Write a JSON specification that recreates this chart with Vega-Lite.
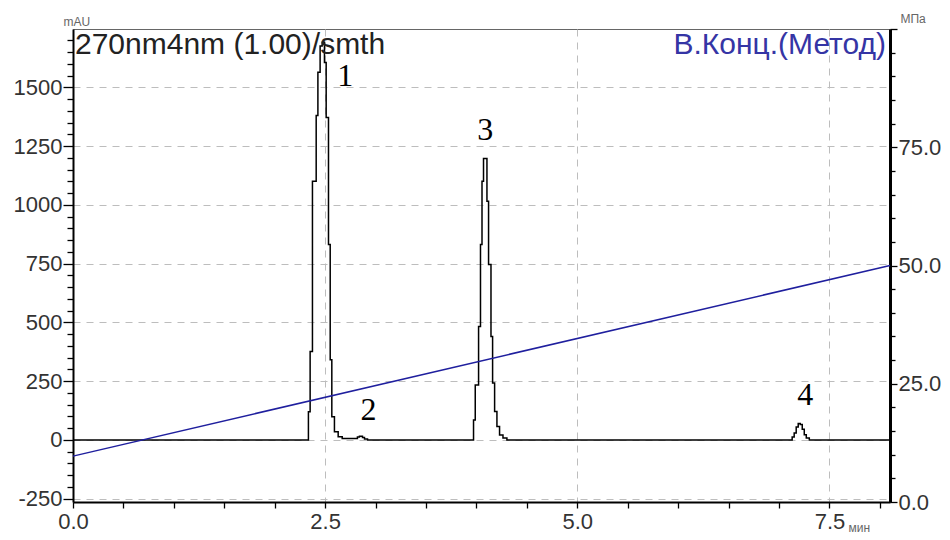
{
  "$schema": "https://vega.github.io/schema/vega-lite/v6.json",
  "width": 817,
  "height": 473,
  "autosize": {"type": "none"},
  "padding": {"left": 73, "top": 29, "right": 60, "bottom": 38},
  "background": "white",
  "config": {
    "view": {"stroke": "#666", "strokeWidth": 1},
    "font": "Liberation Sans",
    "axis": {
      "labelFont": "Liberation Sans",
      "titleFont": "Liberation Sans",
      "labelFontSize": 22,
      "labelColor": "#333",
      "titleFontSize": 12,
      "titleFontWeight": "normal",
      "titleColor": "#666",
      "domainColor": "#000",
      "tickColor": "#000",
      "tickWidth": 1.3,
      "gridColor": "#bdbdbd",
      "gridDash": [7, 6],
      "gridWidth": 1,
      "labelOverlap": false,
      "labelFlush": false
    }
  },
  "datasets": {
    "chrom": [
      {"t": 0.0, "v": 0},
      {"t": 2.334, "v": 120},
      {"t": 2.351, "v": 376},
      {"t": 2.374, "v": 1100},
      {"t": 2.411, "v": 1380},
      {"t": 2.428, "v": 1564},
      {"t": 2.45, "v": 1676},
      {"t": 2.47, "v": 1692},
      {"t": 2.493, "v": 1606},
      {"t": 2.51, "v": 1372},
      {"t": 2.533, "v": 831},
      {"t": 2.55, "v": 341},
      {"t": 2.566, "v": 99},
      {"t": 2.592, "v": 35},
      {"t": 2.629, "v": 14},
      {"t": 2.669, "v": 6},
      {"t": 2.82, "v": 12},
      {"t": 2.84, "v": 16},
      {"t": 2.87, "v": 10},
      {"t": 2.89, "v": 4},
      {"t": 2.92, "v": 0},
      {"t": 3.971, "v": 85},
      {"t": 3.988, "v": 234},
      {"t": 4.021, "v": 483},
      {"t": 4.04, "v": 831},
      {"t": 4.055, "v": 1100},
      {"t": 4.07, "v": 1197},
      {"t": 4.104, "v": 1015},
      {"t": 4.12, "v": 746},
      {"t": 4.144, "v": 440},
      {"t": 4.16, "v": 242},
      {"t": 4.18, "v": 121},
      {"t": 4.203, "v": 57},
      {"t": 4.229, "v": 21},
      {"t": 4.263, "v": 8},
      {"t": 4.302, "v": 0},
      {"t": 7.13, "v": 12},
      {"t": 7.15, "v": 30},
      {"t": 7.17, "v": 55},
      {"t": 7.19, "v": 70},
      {"t": 7.21, "v": 66},
      {"t": 7.23, "v": 45},
      {"t": 7.25, "v": 22},
      {"t": 7.27, "v": 8},
      {"t": 7.3, "v": 0},
      {"t": 8.1, "v": 0}
    ],
    "peaks": [
      {"t": 2.7, "v": 1547, "label": "1"},
      {"t": 2.93, "v": 128, "label": "2"},
      {"t": 4.087, "v": 1317, "label": "3"},
      {"t": 7.26, "v": 192, "label": "4"}
    ],
    "header": [
      {"t": 0, "v": 1748, "label": "270nm4nm (1.00)/smth"}
    ],
    "gradient": [
      {"t": 0, "p": 9.7},
      {"t": 8.1, "p": 50.0}
    ],
    "gradlabel": [
      {"t": 8.1, "p": 100, "label": "В.Конц.(Метод)"}
    ]
  },
  "layer": [
    {
      "encoding": {
        "x": {
          "field": "t", "type": "quantitative",
          "scale": {"domain": [0, 8.1], "nice": false, "zero": false},
          "axis": {
            "orient": "bottom",
            "title": "мин",
            "titleAngle": 0,
            "titleAlign": "left",
            "titleBaseline": "alphabetic",
            "titleX": 775,
            "titleY": 29,
            "values": [0, 0.5, 1, 1.5, 2, 2.5, 3, 3.5, 4, 4.5, 5, 5.5, 6, 6.5, 7, 7.5, 8],
            "labelExpr": "datum.value % 2.5 === 0 ? format(datum.value, '.1f') : ''",
            "domainWidth": 2,
            "tickSize": 6,
            "labelPadding": 3,
            "grid": true,
            "gridOpacity": {"condition": {"test": "datum.value % 2.5 === 0 && datum.value > 0", "value": 1}, "value": 0}
          }
        },
        "y": {
          "field": "v", "type": "quantitative",
          "scale": {"domain": [-264, 1748], "nice": false, "zero": false},
          "axis": {
            "orient": "left",
            "title": "mAU",
            "titleAngle": 0,
            "titleAlign": "left",
            "titleBaseline": "alphabetic",
            "titleX": -10,
            "titleY": -4,
            "values": [-250, -200, -150, -100, -50, 0, 50, 100, 150, 200, 250, 300, 350, 400, 450, 500, 550, 600, 650, 700, 750, 800, 850, 900, 950, 1000, 1050, 1100, 1150, 1200, 1250, 1300, 1350, 1400, 1450, 1500, 1550, 1600, 1650, 1700],
            "labelExpr": "datum.value % 250 === 0 ? '' + datum.value : ''",
            "domainWidth": 2,
            "tickSize": {"condition": {"test": "datum.value % 250 === 0", "value": 10}, "value": 6},
            "labelPadding": 1,
            "grid": true,
            "gridOpacity": {"condition": {"test": "datum.value % 250 === 0", "value": 1}, "value": 0}
          }
        }
      },
      "layer": [
        {
          "data": {"name": "chrom"},
          "mark": {"type": "line", "interpolate": "step-after", "color": "#000", "strokeWidth": 1.5}
        },
        {
          "data": {"name": "peaks"},
          "mark": {"type": "text", "font": "Liberation Serif", "fontSize": 32, "color": "#000", "baseline": "middle", "align": "center"},
          "encoding": {"text": {"field": "label"}}
        },
        {
          "data": {"name": "header"},
          "mark": {"type": "text", "font": "Liberation Sans", "fontSize": 30, "color": "#222", "baseline": "top", "align": "left", "dx": 2, "dy": 1},
          "encoding": {"text": {"field": "label"}}
        }
      ]
    },
    {
      "encoding": {
        "x": {
          "field": "t", "type": "quantitative",
          "scale": {"domain": [0, 8.1], "nice": false, "zero": false},
          "axis": {
            "orient": "bottom",
            "title": "мин",
            "titleAngle": 0,
            "titleAlign": "left",
            "titleBaseline": "alphabetic",
            "titleX": 775,
            "titleY": 29,
            "values": [0, 0.5, 1, 1.5, 2, 2.5, 3, 3.5, 4, 4.5, 5, 5.5, 6, 6.5, 7, 7.5, 8],
            "labelExpr": "datum.value % 2.5 === 0 ? format(datum.value, '.1f') : ''",
            "domainWidth": 2,
            "tickSize": 6,
            "labelPadding": 3,
            "grid": true,
            "gridOpacity": {"condition": {"test": "datum.value % 2.5 === 0 && datum.value > 0", "value": 1}, "value": 0}
          }
        },
        "y": {
          "field": "p", "type": "quantitative",
          "scale": {"domain": [0, 100], "nice": false, "zero": false},
          "axis": {
            "orient": "right",
            "title": "МПа",
            "titleAngle": 0,
            "titleAlign": "left",
            "titleBaseline": "alphabetic",
            "titleX": 10,
            "titleY": -7,
            "values": [0, 5, 10, 15, 20, 25, 30, 35, 40, 45, 50, 55, 60, 65, 70, 75, 80, 85, 90, 95, 100],
            "labelExpr": "datum.value % 25 === 0 && datum.value < 100 ? format(datum.value, '.1f') : ''",
            "domainWidth": 3,
            "tickSize": {"condition": {"test": "datum.value % 25 === 0", "value": 7}, "value": 5},
            "labelPadding": 1,
            "grid": false
          }
        }
      },
      "layer": [
        {
          "data": {"name": "gradient"},
          "mark": {"type": "line", "color": "#1f1f9e", "strokeWidth": 1.5}
        },
        {
          "data": {"name": "gradlabel"},
          "mark": {"type": "text", "font": "Liberation Sans", "fontSize": 30, "color": "#3535a5", "baseline": "top", "align": "right", "dx": -4, "dy": 1},
          "encoding": {"text": {"field": "label"}}
        }
      ]
    }
  ],
  "resolve": {"scale": {"y": "independent"}}
}
